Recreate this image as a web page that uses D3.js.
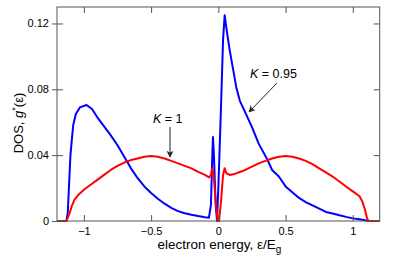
<!DOCTYPE html>
<html><head><meta charset="utf-8">
<script src="https://cdn.jsdelivr.net/npm/d3@7"></script>
<style>body{margin:0;background:#fff}svg{display:block}text{font-family:"Liberation Sans",Arial,sans-serif;fill:#000}</style>
</head><body>
<svg id="c" width="399" height="258"></svg>
<script>
const xTicks = [-1, -0.5, 0, 0.5, 1];
const xTickLabels = ["\u22121", "\u22120.5", "0", "0.5", "1"];
const yTicks = [0, 0.04, 0.08, 0.12];
const yTickLabels = ["0", "0.04", "0.08", "0.12"];

// K = 0.95 (blue)
const blueX = [-1.2,-1.13,-1.12,-1.1,-1.08,-1.06,-1.03,-0.98,-0.94,-0.9,-0.85,-0.8,-0.75,-0.7,-0.65,-0.6,-0.55,-0.5,-0.45,-0.4,-0.35,-0.3,-0.25,-0.2,-0.15,-0.1,-0.07,-0.055,-0.045,-0.04,-0.033,-0.02,-0.01,0.0,0.02,0.035,0.047,0.06,0.084,0.11,0.134,0.16,0.2,0.25,0.3,0.36,0.4,0.45,0.5,0.55,0.6,0.65,0.7,0.75,0.8,0.85,0.9,0.95,1.0,1.05,1.1,1.12,1.2];
const blueY = [0,0,0.005,0.04,0.058,0.065,0.069,0.0705,0.068,0.063,0.0575,0.052,0.046,0.039,0.032,0.026,0.021,0.017,0.0135,0.0105,0.008,0.006,0.0047,0.0038,0.003,0.0023,0.002,0.01,0.04,0.051,0.04,0.01,0,0.02,0.07,0.11,0.125,0.117,0.104,0.092,0.081,0.073,0.066,0.057,0.047,0.038,0.031,0.027,0.021,0.0175,0.014,0.0115,0.0095,0.0075,0.0055,0.0045,0.0035,0.0025,0.0016,0.001,0.0003,0,0];

// K = 1 (red)
const redX = [-1.2,-1.13,-1.11,-1.09,-1.07,-1.04,-1.0,-0.95,-0.9,-0.85,-0.8,-0.75,-0.7,-0.65,-0.6,-0.55,-0.5,-0.45,-0.4,-0.35,-0.3,-0.25,-0.2,-0.15,-0.1,-0.07,-0.055,-0.045,-0.035,-0.02,-0.005,0.005,0.02,0.035,0.047,0.06,0.085,0.12,0.15,0.2,0.25,0.3,0.35,0.4,0.45,0.5,0.55,0.6,0.65,0.7,0.75,0.8,0.85,0.9,0.95,1.0,1.05,1.07,1.09,1.105,1.115,1.2];
const redY = [0,0,0.004,0.009,0.013,0.016,0.019,0.022,0.025,0.028,0.031,0.0335,0.0355,0.037,0.038,0.039,0.0395,0.039,0.038,0.0365,0.035,0.0335,0.032,0.0298,0.028,0.0265,0.028,0.032,0.028,0.012,0,0,0.012,0.028,0.032,0.029,0.028,0.0285,0.0295,0.031,0.033,0.035,0.0365,0.038,0.039,0.0395,0.039,0.038,0.0365,0.0345,0.032,0.0295,0.027,0.024,0.021,0.018,0.015,0.012,0.007,0.002,0,0];

const L = 57, R = 379.7, T = 7, B = 221;
const svg = d3.select("#c");
const x = d3.scaleLinear().domain([-1.2, 1.2]).range([L, R]);
const y = d3.scaleLinear().domain([0, 0.13]).range([B, T]);
const axisCol = "#555";

const line = d3.line().x(d => x(d[0])).y(d => y(d[1]));
const blue = blueX.map((v, i) => [v, blueY[i]]);
const red = redX.map((v, i) => [v, redY[i]]);

svg.append("path").attr("d", line(blue)).attr("fill", "none").attr("stroke", "#0000ff").attr("stroke-width", 2).attr("stroke-linejoin", "round");
svg.append("path").attr("d", line(red)).attr("fill", "none").attr("stroke", "#ff0000").attr("stroke-width", 2).attr("stroke-linejoin", "round");

// frame
svg.append("rect").attr("x", L).attr("y", T).attr("width", R - L).attr("height", B - T).attr("fill", "none").attr("stroke", axisCol).attr("stroke-width", 1);

// axes
const bx = svg.append("g").attr("transform", `translate(0,${B})`)
  .call(d3.axisBottom(x).tickValues(xTicks).tickSizeInner(-6).tickSizeOuter(0).tickPadding(6).tickFormat((d, i) => xTickLabels[i]));
const tx = svg.append("g").attr("transform", `translate(0,${T})`)
  .call(d3.axisTop(x).tickValues(xTicks).tickSizeInner(-6).tickSizeOuter(0).tickFormat(""));
const ly = svg.append("g").attr("transform", `translate(${L},0)`)
  .call(d3.axisLeft(y).tickValues(yTicks).tickSizeInner(5).tickSizeOuter(0).tickPadding(3).tickFormat((d, i) => yTickLabels[i]));
ly.selectAll(".tick line").attr("x1", 6);
const ry = svg.append("g").attr("transform", `translate(${R},0)`)
  .call(d3.axisRight(y).tickValues(yTicks).tickSizeInner(-6).tickSizeOuter(0).tickFormat(""));
[bx, tx, ly, ry].forEach(g => {
  g.select(".domain").remove();
  g.selectAll(".tick line").attr("stroke", axisCol);
  g.selectAll("text").attr("font-size", 11).attr("fill", "#000").attr("font-family", "Liberation Sans, Arial, sans-serif");
});

// axis labels
const xl = svg.append("text").attr("x", (L + R) / 2 + 1).attr("y", 249).attr("text-anchor", "middle").attr("font-size", 13.5);
xl.append("tspan").text("electron energy, \u03b5/E");
xl.append("tspan").attr("font-size", 10).attr("dy", 4).text("g");

const yl = svg.append("text").attr("transform", "translate(23,123) rotate(-90)").attr("text-anchor", "middle").attr("font-size", 13);
yl.append("tspan").text("DOS, ");
yl.append("tspan").attr("font-style", "italic").text("g");
yl.append("tspan").attr("font-size", 9).attr("dy", -5).text("*");
yl.append("tspan").attr("dy", 5).text("(\u03b5)");

// annotations
svg.append("defs").append("marker").attr("id", "ah").attr("viewBox", "0 0 10 10").attr("refX", 9).attr("refY", 5)
  .attr("markerWidth", 7).attr("markerHeight", 7).attr("orient", "auto")
  .append("path").attr("d", "M0,0 L10,5 L0,10 L3,5 z").attr("fill", "#222");

const a1 = svg.append("text").attr("x", 250).attr("y", 78).attr("font-size", 12.5);
a1.append("tspan").attr("font-style", "italic").text("K");
a1.append("tspan").text(" = 0.95");
svg.append("line").attr("x1", 277).attr("y1", 83).attr("x2", 249).attr("y2", 112).attr("stroke", "#222").attr("stroke-width", 1).attr("marker-end", "url(#ah)");

const a2 = svg.append("text").attr("x", 153).attr("y", 123).attr("font-size", 12.5);
a2.append("tspan").attr("font-style", "italic").text("K");
a2.append("tspan").text(" = 1");
svg.append("line").attr("x1", 170).attr("y1", 127).attr("x2", 170).attr("y2", 157).attr("stroke", "#222").attr("stroke-width", 1).attr("marker-end", "url(#ah)");
</script>
</body></html>
